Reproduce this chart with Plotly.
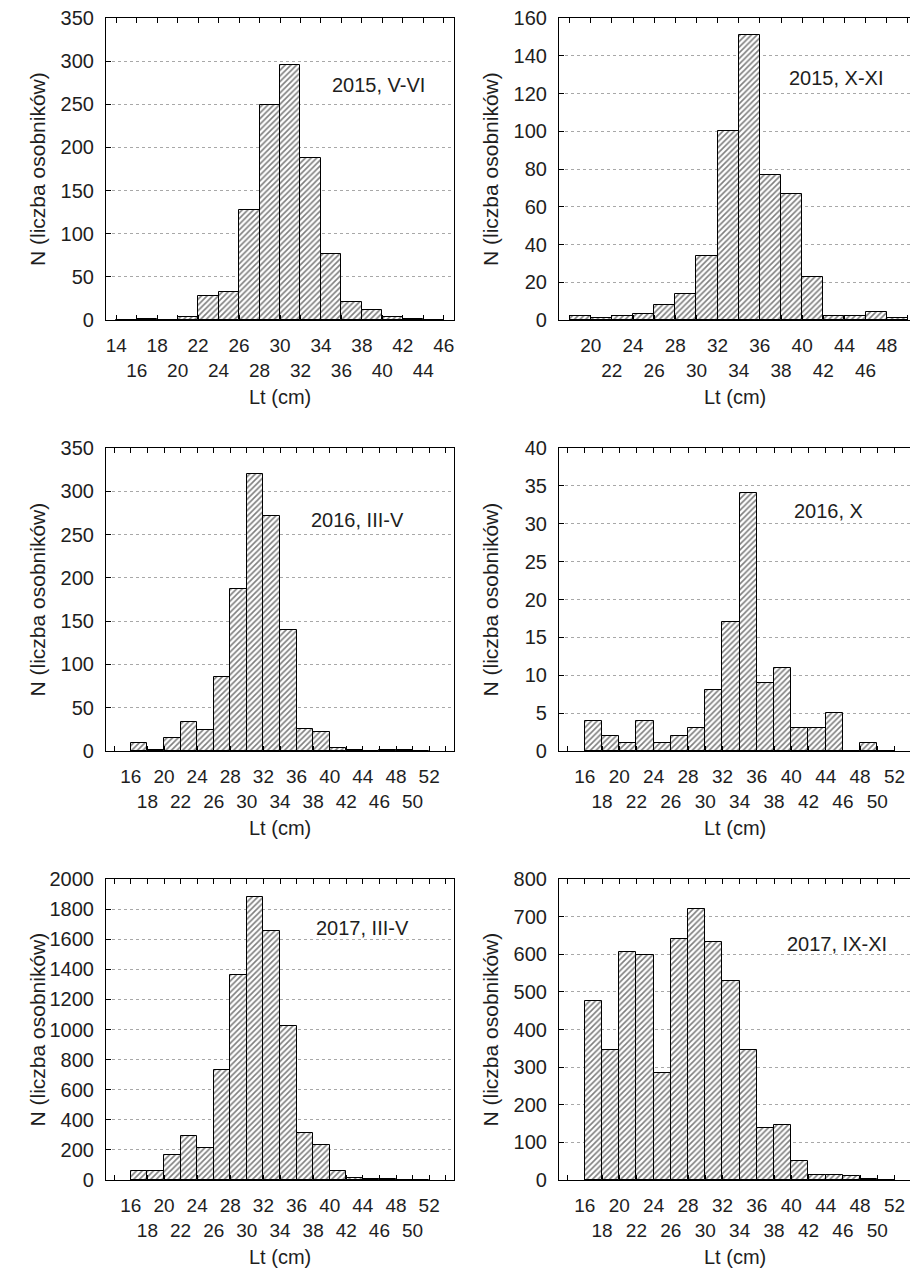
import plotly.graph_objects as go

W, H = 910, 1276
BIN_W = 2

# ---------------- data ----------------
p1_label = "2015, V-VI"
p1_bins = [14, 16, 18, 20, 22, 24, 26, 28, 30, 32, 34, 36, 38, 40, 42, 44]
p1_counts = [0, 1, 0, 3, 28, 32, 127, 249, 296, 188, 77, 21, 12, 4, 1, 0]
p1_ticks = [14, 16, 18, 20, 22, 24, 26, 28, 30, 32, 34, 36, 38, 40, 42, 44, 46]
p1_ticklabels = ["14", "16", "18", "20", "22", "24", "26", "28", "30", "32",
                 "34", "36", "38", "40", "42", "44", "46"]
p1_yticks = [0, 50, 100, 150, 200, 250, 300, 350]

p2_label = "2015, X-XI"
p2_bins = [18, 20, 22, 24, 26, 28, 30, 32, 34, 36, 38, 40, 42, 44, 46, 48]
p2_counts = [2, 1, 2, 3, 8, 14, 34, 100, 151, 77, 67, 23, 2, 2, 4, 1]
p2_ticks = [18, 20, 22, 24, 26, 28, 30, 32, 34, 36, 38, 40, 42, 44, 46, 48, 50]
p2_ticklabels = ["", "20", "22", "24", "26", "28", "30", "32", "34", "36",
                 "38", "40", "42", "44", "46", "48", ""]
p2_yticks = [0, 20, 40, 60, 80, 100, 120, 140, 160]

wide_bins = [16, 18, 20, 22, 24, 26, 28, 30, 32, 34, 36, 38, 40, 42, 44, 46, 48, 50]
wide_ticks = [14, 16, 18, 20, 22, 24, 26, 28, 30, 32, 34, 36, 38, 40, 42, 44,
              46, 48, 50, 52, 54]
wide_ticklabels = ["", "16", "18", "20", "22", "24", "26", "28", "30", "32",
                   "34", "36", "38", "40", "42", "44", "46", "48", "50", "52", ""]

p3_label = "2016, III-V"
p3_counts = [9, 1, 15, 34, 24, 86, 187, 320, 271, 140, 25, 22, 3, 1, 0, 1, 1, 0]
p3_yticks = [0, 50, 100, 150, 200, 250, 300, 350]

p4_label = "2016, X"
p4_counts = [4, 2, 1, 4, 1, 2, 3, 8, 17, 34, 9, 11, 3, 3, 5, 0, 1, 0]
p4_yticks = [0, 5, 10, 15, 20, 25, 30, 35, 40]

p5_label = "2017, III-V"
p5_counts = [60, 60, 165, 290, 215, 730, 1365, 1880, 1655, 1025, 310, 235, 60,
             15, 5, 5, 0, 0]
p5_yticks = [0, 200, 400, 600, 800, 1000, 1200, 1400, 1600, 1800, 2000]

p6_label = "2017, IX-XI"
p6_counts = [475, 345, 605, 598, 285, 640, 720, 633, 530, 345, 137, 145, 50,
             13, 13, 10, 3, 0]
p6_yticks = [0, 100, 200, 300, 400, 500, 600, 700, 800]

x_title = "Lt (cm)"
y_title = "N (liczba osobników)"

# ---------------- layout geometry (pixels) ----------------
panels = [
    dict(bins=p1_bins, counts=p1_counts, ticks=p1_ticks, tl=p1_ticklabels,
         yt=p1_yticks, label=p1_label, xr=[13, 47], box=(106, 454, 18, 320),
         lab=(0.783, 0.778), right=False),
    dict(bins=p2_bins, counts=p2_counts, ticks=p2_ticks, tl=p2_ticklabels,
         yt=p2_yticks, label=p2_label, xr=[17, 50.2], box=(559, 910, 18, 320),
         lab=(0.791, 0.801), right=True),
    dict(bins=wide_bins, counts=p3_counts, ticks=wide_ticks, tl=wide_ticklabels,
         yt=p3_yticks, label=p3_label, xr=[13, 55], box=(106, 454, 448, 751),
         lab=(0.723, 0.762), right=False),
    dict(bins=wide_bins, counts=p4_counts, ticks=wide_ticks, tl=wide_ticklabels,
         yt=p4_yticks, label=p4_label, xr=[13, 53.8], box=(559, 910, 448, 751),
         lab=(0.769, 0.793), right=True),
    dict(bins=wide_bins, counts=p5_counts, ticks=wide_ticks, tl=wide_ticklabels,
         yt=p5_yticks, label=p5_label, xr=[13, 55], box=(106, 454, 879, 1180),
         lab=(0.737, 0.836), right=False),
    dict(bins=wide_bins, counts=p6_counts, ticks=wide_ticks, tl=wide_ticklabels,
         yt=p6_yticks, label=p6_label, xr=[13, 53.8], box=(559, 910, 879, 1180),
         lab=(0.791, 0.784), right=True),
]

FONT = "Liberation Sans, Arial, sans-serif"
TXT = "#1e1e1e"

fig = go.Figure()
layout = dict(
    width=W, height=H, margin=dict(l=0, r=0, t=0, b=0, pad=0),
    paper_bgcolor="white", plot_bgcolor="white", showlegend=False,
    font=dict(family=FONT, color=TXT, size=19),
    bargap=0,
)
annotations = []

for i, p in enumerate(panels, start=1):
    xa = "x" if i == 1 else f"x{i}"
    ya = "y" if i == 1 else f"y{i}"
    l, r, t, b = p["box"]

    # alternate tick labels between two rows
    texts = []
    k = 0
    for s in p["tl"]:
        if s == "":
            texts.append("")
        else:
            texts.append(s if k % 2 == 0 else "\u00a0<br>" + s)
            k += 1

    fig.add_trace(go.Bar(
        x=[bl + BIN_W / 2 for bl in p["bins"]], y=p["counts"], width=BIN_W,
        xaxis=xa, yaxis=ya,
        marker=dict(color="white", line=dict(color="black", width=1),
                    pattern=dict(shape="/", size=4, solidity=0.4,
                                 fgcolor="black", bgcolor="white")),
        hoverinfo="x+y",
    ))

    layout["xaxis" if i == 1 else f"xaxis{i}"] = dict(
        domain=[l / W, r / W], anchor=ya, range=p["xr"],
        tickmode="array", tickvals=p["ticks"], ticktext=texts, tickangle=0,
        ticks="inside", ticklen=5, tickcolor="black", tickwidth=1,
        showline=True, linecolor="black", linewidth=1.2, mirror="ticks",
        showgrid=False, zeroline=False, ticklabelstandoff=8,
        tickfont=dict(size=19, color=TXT), automargin=False,
    )
    layout["yaxis" if i == 1 else f"yaxis{i}"] = dict(
        domain=[1 - b / H, 1 - t / H], anchor=xa,
        range=[0, p["yt"][-1]], tickmode="array", tickvals=p["yt"],
        ticks="inside", ticklen=5, tickcolor="black", tickwidth=1,
        showline=True, linecolor="black", linewidth=1.2,
        mirror=(not p["right"]),
        showgrid=True, gridcolor="#a8a8a8", griddash="dot", gridwidth=1,
        zeroline=False, ticklabelstandoff=7, automargin=False,
        tickfont=dict(size=20, color=TXT),
    )

    annotations.append(dict(
        text=p["label"], xref=f"{xa} domain", yref=f"{ya} domain",
        x=p["lab"][0], y=p["lab"][1], showarrow=False,
        xanchor="center", yanchor="middle",
        font=dict(size=20, color=TXT, family=FONT),
    ))
    annotations.append(dict(
        text=x_title, xref="paper", yref="paper",
        x=(l + r) / 2 / W, y=1 - (b + 77) / H, showarrow=False,
        xanchor="center", yanchor="middle",
        font=dict(size=20, color=TXT, family=FONT),
    ))
    ytx = 490 if p["right"] else 37
    annotations.append(dict(
        text=y_title, xref="paper", yref="paper", textangle=-90,
        x=ytx / W, y=1 - (t + b) / 2 / H, showarrow=False,
        xanchor="center", yanchor="middle",
        font=dict(size=21, color=TXT, family=FONT),
    ))

layout["annotations"] = annotations
fig.update_layout(**layout)
fig.write_html(
    "out.html",
    config={"displayModeBar": False},
    post_script="document.body.style.margin='0';document.body.style.overflow='hidden';",
)
